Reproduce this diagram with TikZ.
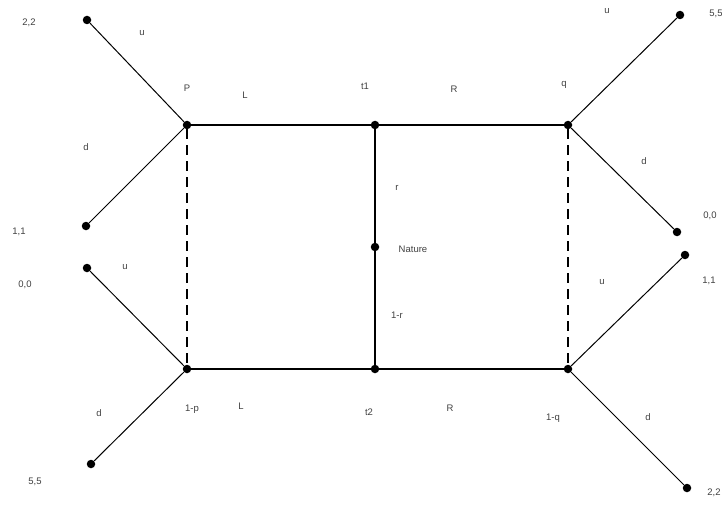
\documentclass[tikz,border=0pt]{standalone}
\usepackage{fontspec}
\setmainfont{Liberation Sans}
\begin{document}
\begin{tikzpicture}[x=1pt,y=-1pt,
  dot/.style={circle,fill=black,inner sep=0pt,minimum size=8.5pt},
  lbl/.style={font=\fontsize{9.5}{11}\selectfont,text=black!75,inner sep=1pt},
  main/.style={line width=1.5pt},
  branch/.style={line width=1pt},
  info/.style={line width=1.2pt,dash pattern=on 10pt off 6pt}]
\useasboundingbox (0,0) rectangle (722,516);
% decision nodes
\node[dot] (P) at (187,125) {};
\node[dot] (T1) at (375,125) {};
\node[dot] (Q) at (568,125) {};
\node[dot] (N) at (375,247) {};
\node[dot] (PB) at (187,369) {};
\node[dot] (T2) at (375,369) {};
\node[dot] (QB) at (568,369) {};
% terminal nodes
\node[dot] (a1) at (87,20) {};
\node[dot] (a2) at (86,226) {};
\node[dot] (a3) at (87,268) {};
\node[dot] (a4) at (91,464) {};
\node[dot] (b1) at (680,15) {};
\node[dot] (b2) at (677,232) {};
\node[dot] (b3) at (685,255) {};
\node[dot] (b4) at (687,488) {};
% main lines
\draw[main] (P) -- (T1) -- (Q);
\draw[main] (PB) -- (T2) -- (QB);
\draw[main] (T1) -- (N) -- (T2);
\draw[info] (P) -- (PB);
\draw[info] (Q) -- (QB);
% branches
\draw[branch] (P) -- (a1);
\draw[branch] (P) -- (a2);
\draw[branch] (PB) -- (a3);
\draw[branch] (PB) -- (a4);
\draw[branch] (Q) -- (b1);
\draw[branch] (Q) -- (b2);
\draw[branch] (QB) -- (b3);
\draw[branch] (QB) -- (b4);
% payoffs
\node[lbl] (pa1) at (29,23) {2,2};
\node[lbl] (pa2) at (19,232) {1,1};
\node[lbl] (pa3) at (25,285) {0,0};
\node[lbl] (pa4) at (35,482) {5,5};
\node[lbl] (pb1) at (716,14) {5,5};
\node[lbl] (pb2) at (710,216) {0,0};
\node[lbl] (pb3) at (709,281) {1,1};
\node[lbl] (pb4) at (714,493) {2,2};
% action labels
\node[lbl] (u1) at (142,33) {u};
\node[lbl] (d1) at (86,147) {d};
\node[lbl] (u2) at (125,267) {u};
\node[lbl] (d2) at (99,413) {d};
\node[lbl] (u3) at (607,11) {u};
\node[lbl] (d3) at (644,161) {d};
\node[lbl] (u4) at (602,282) {u};
\node[lbl] (d4) at (648,417) {d};
\node[lbl] (lP) at (187,88) {P};
\node[lbl] (lL1) at (245,95) {L};
\node[lbl] (lt1) at (365,86) {t1};
\node[lbl] (lR1) at (454,89) {R};
\node[lbl] (lq) at (564,85) {q};
\node[lbl] (lr) at (397,188) {r};
\node[lbl] (lN) at (413,249) {Nature};
\node[lbl] (l1r) at (397,315) {1-r};
\node[lbl] (l1p) at (192,409) {1-p};
\node[lbl] (lL2) at (241,406) {L};
\node[lbl] (lt2) at (369,412) {t2};
\node[lbl] (lR2) at (450,408) {R};
\node[lbl] (l1q) at (553,418) {1-q};
\end{tikzpicture}
\end{document}
